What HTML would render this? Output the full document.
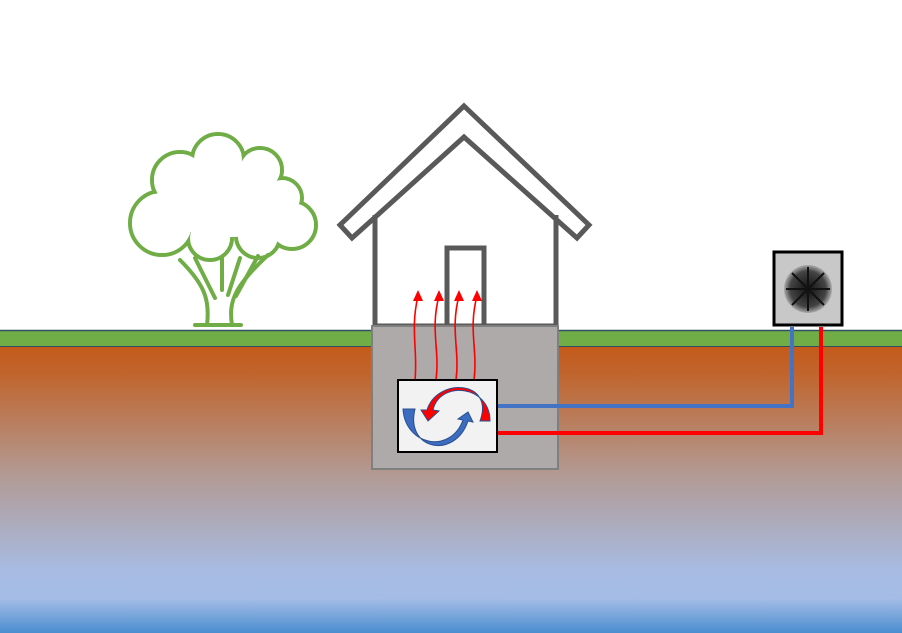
<!DOCTYPE html>
<html><head><style>html,body{margin:0;padding:0;background:#fff}svg{display:block}</style></head><body>
<svg width="902" height="633" viewBox="0 0 902 633" xmlns="http://www.w3.org/2000/svg">
<defs>
<linearGradient id="g" x1="0" y1="0" x2="0" y2="1">
<stop offset="0" stop-color="#c45a1a"/>
<stop offset="0.1" stop-color="#c0652e"/>
<stop offset="0.45" stop-color="#b29a94"/>
<stop offset="0.78" stop-color="#a8bbe2"/>
<stop offset="0.88" stop-color="#a4bce6"/>
<stop offset="1" stop-color="#4a8ed0"/>
</linearGradient>
<radialGradient id="fan" cx="0.5" cy="0.5" r="0.5">
<stop offset="0" stop-color="#111"/><stop offset="0.75" stop-color="#444"/><stop offset="1" stop-color="#aaa"/>
</radialGradient>
</defs>
<rect x="0" y="346" width="902" height="287" fill="url(#g)"/>
<rect x="0" y="330" width="902" height="17" fill="#70ad47"/>
<line x1="0" y1="330.5" x2="902" y2="330.5" stroke="#2f5060" stroke-width="1.5"/>
<line x1="0" y1="346.5" x2="902" y2="346.5" stroke="#2f5060" stroke-width="1"/>
<g stroke="#70ad47" stroke-width="4" fill="none">
<circle cx="180" cy="180" r="28"/><circle cx="218" cy="160" r="26"/><circle cx="260" cy="170" r="22"/>
<circle cx="282" cy="198" r="20"/><circle cx="292" cy="225" r="24"/><circle cx="162" cy="223" r="32"/>
<circle cx="210" cy="238" r="22"/><circle cx="258" cy="236" r="22"/>
</g>
<g fill="#fff">
<circle cx="180" cy="180" r="26"/><circle cx="218" cy="160" r="24"/><circle cx="260" cy="170" r="20"/>
<circle cx="282" cy="198" r="18"/><circle cx="292" cy="225" r="22"/><circle cx="162" cy="223" r="30"/>
<circle cx="210" cy="238" r="20"/><circle cx="258" cy="236" r="20"/>
<polygon points="180,180 218,160 260,170 282,198 292,225 258,236 210,238 162,223"/>
</g>
<g stroke="#70ad47" stroke-width="4" fill="none" stroke-linecap="round" stroke-linejoin="round">
<path d="M207 325 C210 300 205 285 180 260 M232 325 C228 300 236 285 268 255 M195 325 h46"/>
<path d="M195 258 L215 298 M222 258 L222 290 M240 258 L228 295 M258 256 L236 296"/>
</g>
<g stroke="#595959" stroke-width="5" fill="#fff" stroke-linejoin="miter">
<polygon points="464,106 589,225 577,238 464,137 352,238 340,225"/>
<polyline points="375,215 375,326 556,326 556,215" fill="none"/>
<polyline points="447,326 447,248 484,248 484,326" fill="none"/>
</g>
<rect x="372" y="326" width="186" height="143" fill="#aeaaaa" stroke="#7f7f7f" stroke-width="2"/>
<g stroke="#f00" stroke-width="1.6" fill="none">
<path d="M415 380 C418 350 410 330 418 296"/>
<path d="M436 380 C440 350 430 330 439 296"/>
<path d="M456 380 C460 350 450 330 459 296"/>
<path d="M474 380 C478 350 468 330 477 296"/>
</g>
<g fill="#f00">
<polygon points="418,290 413,301 423,301"/><polygon points="439,290 434,301 444,301"/>
<polygon points="459,290 454,301 464,301"/><polygon points="477,290 472,301 482,301"/>
</g>
<polyline points="497,406 792,406 792,327" fill="none" stroke="#4472c4" stroke-width="4"/>
<polyline points="497,433 821,433 821,327" fill="none" stroke="#f00" stroke-width="4"/>
<rect x="398" y="380" width="99" height="72" fill="#f2f2f2" stroke="#000" stroke-width="2"/>
<path d="M403 409 C405 445 450 455 463 420 L458 419 L468 412 L473 422 L468 421 C455 460 405 450 415 409 Z" fill="#3c6cc0" stroke="#2a4f90" stroke-width="1"/>
<path d="M490 421 C490 385 440 380 433 410 L439 411 L428 421 L421 410 L427 410 C437 377 495 380 480 421 Z" fill="#f00" stroke="#2a4f90" stroke-width="1"/>
<rect x="774" y="252" width="68" height="73" fill="#c8c8c8" stroke="#000" stroke-width="3"/>
<circle cx="808" cy="289" r="24" fill="url(#fan)"/>
<g stroke="#111" stroke-width="2">
<line x1="808" y1="267" x2="808" y2="311"/><line x1="786" y1="289" x2="830" y2="289"/>
<line x1="792" y1="273" x2="824" y2="305"/><line x1="824" y1="273" x2="792" y2="305"/>
</g>
</svg>
</body></html>
